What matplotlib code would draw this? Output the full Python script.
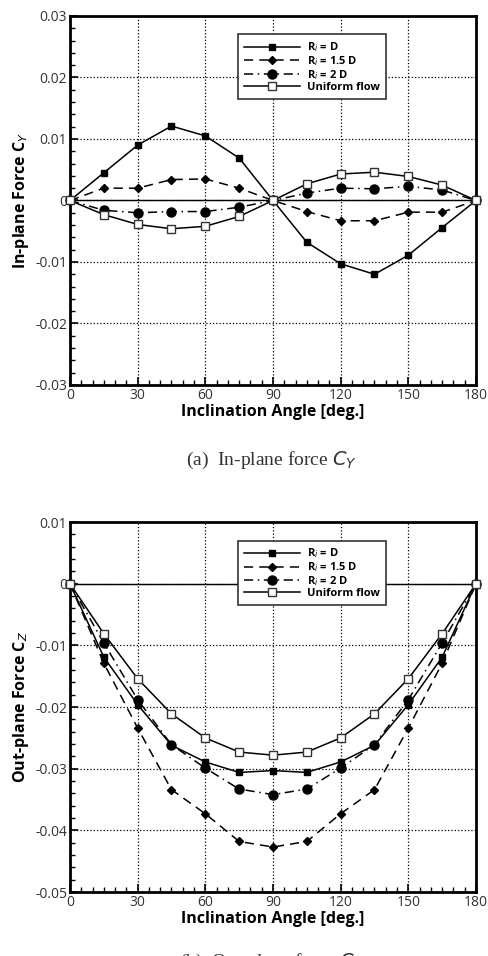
import numpy as np
import matplotlib
matplotlib.use("Agg")
import matplotlib.pyplot as plt
from matplotlib.ticker import MultipleLocator

plt.rcParams['font.family'] = ['Open Sans', 'DejaVu Sans']

# inclination angle [deg]
angle = [0, 15, 30, 45, 60, 75, 90, 105, 120, 135, 150, 165, 180]

# in-plane force C_Y
cy_d = [0, 0.0045, 0.0090, 0.0121, 0.0105, 0.0069, 0, -0.0068, -0.0103, -0.0120, -0.0089, -0.0044, 0]
cy_15d = [0, 0.0020, 0.0020, 0.0034, 0.0035, 0.0020, 0, -0.0018, -0.0033, -0.0033, -0.0019, -0.0019, 0]
cy_2d = [0, -0.0016, -0.0020, -0.0018, -0.0018, -0.0011, 0, 0.0012, 0.0020, 0.0019, 0.0023, 0.0017, 0]
cy_uni = [0, -0.0023, -0.0039, -0.0046, -0.0042, -0.0026, 0, 0.0027, 0.0043, 0.0046, 0.0039, 0.0025, 0]

# out-plane force C_Z
cz_d = [0, -0.0119, -0.0196, -0.0262, -0.0289, -0.0306, -0.0303, -0.0306, -0.0289, -0.0262, -0.0196, -0.0119, 0]
cz_15d = [0, -0.0129, -0.0234, -0.0334, -0.0373, -0.0418, -0.0427, -0.0418, -0.0373, -0.0334, -0.0234, -0.0129, 0]
cz_2d = [0, -0.0096, -0.0188, -0.0261, -0.0299, -0.0333, -0.0342, -0.0333, -0.0299, -0.0261, -0.0188, -0.0096, 0]
cz_uni = [0, -0.0081, -0.0154, -0.0211, -0.0250, -0.0273, -0.0278, -0.0273, -0.0250, -0.0211, -0.0154, -0.0081, 0]

labels = ['R$_i$ = D', 'R$_i$ = 1.5 D', 'R$_i$ = 2 D', 'Uniform flow']


def draw_panel(ax, series, ylim, ylabel):
    ax.plot(angle, series[0], '-', color='black', lw=1.1, marker='s', ms=4.5,
            mfc='black', label=labels[0], clip_on=False, zorder=4)
    ax.plot(angle, series[1], color='black', lw=1.1, ls=(0, (6, 4)), marker='D', ms=4.5,
            mfc='black', label=labels[1], clip_on=False, zorder=4)
    ax.plot(angle, series[2], color='black', lw=1.1, ls=(0, (6, 3, 1, 3)), marker='o', ms=6.5,
            mfc='black', label=labels[2], clip_on=False, zorder=4)
    ax.plot(angle, series[3], '-', color='black', lw=1.1, marker='s', ms=5.5,
            mfc='white', mec='#333333', mew=1.0, label=labels[3], clip_on=False, zorder=4)

    ax.axhline(0, color='black', lw=1.0, zorder=2)
    ax.set_xlim(0, 180)
    ax.set_ylim(*ylim)
    ax.xaxis.set_major_locator(MultipleLocator(30))
    ax.xaxis.set_minor_locator(MultipleLocator(5))
    ax.yaxis.set_major_locator(MultipleLocator(0.01))
    ax.yaxis.set_minor_locator(MultipleLocator(0.002))
    ax.grid(True, which='major', ls=':', color='black', lw=0.9)
    ax.tick_params(which='both', direction='in', top=False, right=False,
                   labelsize=10, colors='black', labelcolor='#333333', pad=2)
    ax.tick_params(which='major', length=6, width=1.2)
    ax.tick_params(which='minor', length=3.5, width=1.0)
    ax.yaxis.set_major_formatter(plt.FuncFormatter(lambda v, p: '0' if abs(v) < 1e-9 else f'{v:.2f}'))
    for s in ax.spines.values():
        s.set_linewidth(2.0)
    ax.set_xlabel('Inclination Angle [deg.]', fontsize=11.5, fontweight='bold', labelpad=1)
    ax.set_ylabel(ylabel, fontsize=11.5, fontweight='bold', labelpad=3)
    leg = ax.legend(loc='upper left', bbox_to_anchor=(0.4, 0.965),
                    handlelength=5.0, handletextpad=0.7, labelspacing=0.0,
                    borderpad=0.55, fancybox=False, framealpha=1, edgecolor='#333333',
                    prop={'weight': 'bold', 'size': 8})
    leg.get_frame().set_linewidth(1.2)
    leg.set_zorder(10)


fig = plt.figure(figsize=(4.88, 9.56), dpi=100)

ax1 = fig.add_axes([0.1434, 0.5973, 0.832, 0.386])
draw_panel(ax1, [cy_d, cy_15d, cy_2d, cy_uni], (-0.03, 0.03), 'In-plane Force C$_Y$')

ax2 = fig.add_axes([0.1434, 0.0669, 0.832, 0.387])
draw_panel(ax2, [cz_d, cz_15d, cz_2d, cz_uni], (-0.05, 0.01), 'Out-plane Force C$_Z$')

fig.text(0.557, 1 - 460 / 956, '(a)  In-plane force $C_Y$', ha='center', va='center',
         fontsize=14, family='Liberation Serif', color='#333333')
fig.text(0.557, 1 - 962 / 956, '(b)  Out-plane force $C_Z$', ha='center', va='center',
         fontsize=14, family='Liberation Serif', color='#333333')

fig.savefig('out.png', dpi=100)
